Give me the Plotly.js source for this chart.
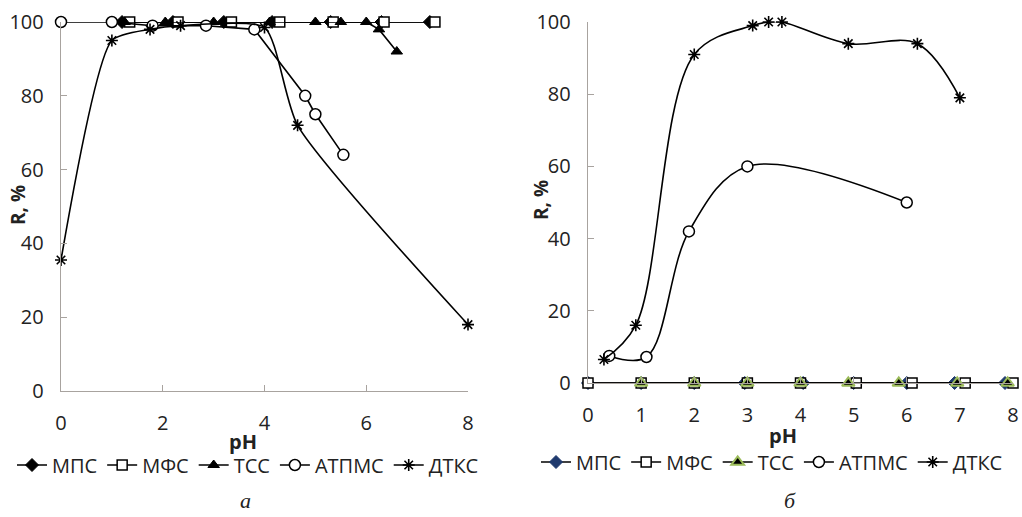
<!DOCTYPE html>
<html>
<head>
<meta charset="utf-8">
<script src="https://cdn.plot.ly/plotly-3.0.1.min.js"></script>
<style>html,body{margin:0;padding:0;background:#fff;}#chart{width:1022px;height:517px;}</style>
</head>
<body>
<div id="chart"></div>
<script>
// ---- Panel а ----
const seriesNames = ['МПС', 'МФС', 'ТСС', 'АТПМС', 'ДТКС'];

const mpsA_pH = [1.2, 2.2, 3.2, 4.15, 5.3, 6.3, 7.25];
const mpsA_R = [100, 100, 100, 100, 100, 100, 100];
const mfsA_pH = [1.35, 2.3, 3.35, 4.3, 5.35, 6.35, 7.35];
const mfsA_R = [100, 100, 100, 100, 100, 100, 100];
const tssA_pH = [1.25, 2.05, 3.0, 4.1, 5.0, 5.5, 6.0, 6.25, 6.6];
const tssA_R = [100, 100, 100, 100, 100, 100, 100, 98, 92];
const atpmsA_pH = [0, 1, 1.8, 2.85, 3.8, 4.8, 5.0, 5.55];
const atpmsA_R = [100, 100, 99, 99, 98, 80, 75, 64];
const dtksA_pH = [0, 1, 1.75, 2.35, 4.0, 4.65, 8];
const dtksA_R = [35.5, 95, 98, 99, 98.5, 72, 18];

// ---- Panel б ----
const mpsB_pH = [0, 1, 2, 2.95, 4.05, 5, 6, 6.9, 7.85];
const mpsB_R = [0, 0, 0, 0, 0, 0, 0, 0, 0];
const mfsB_pH = [0, 1, 2, 3, 4, 5.05, 6.1, 7.1, 8];
const mfsB_R = [0, 0, 0, 0, 0, 0, 0, 0, 0];
const tssB_pH = [1, 2, 3, 4, 4.9, 5.85, 6.95, 7.9];
const tssB_R = [0, 0, 0, 0, 0, 0, 0, 0];
const atpmsB_pH = [0.4, 1.1, 1.9, 3, 6];
const atpmsB_R = [7.5, 7.2, 42, 60, 50];
const dtksB_pH = [0.3, 0.9, 2, 3.1, 3.4, 3.65, 4.9, 6.2, 7];
const dtksB_R = [6.5, 16, 91, 99, 100, 100, 94, 94, 79];

const xTicksA = [0, 2, 4, 6, 8];
const xTicksB = [0, 1, 2, 3, 4, 5, 6, 7, 8];
const yTicks = [0, 20, 40, 60, 80, 100];

const FONT = '"Open Sans", "Noto Sans", sans-serif';
const LINE = {color: '#000', width: 1.6};

function tr(x, y, name, marker, axes, legend, shape, smoothing) {
  const line = Object.assign({}, LINE, {shape: shape || 'linear'});
  if (shape === 'spline') line.smoothing = smoothing;
  return {
    x: x, y: y, name: name, type: 'scatter', mode: 'lines+markers',
    line: line, marker: marker, xaxis: axes[0], yaxis: axes[1],
    legend: legend, cliponaxis: false
  };
}

const mDiamA = {symbol: 'diamond', size: 10, color: '#000', line: {color: '#000', width: 1}};
const mSq = {symbol: 'square', size: 10, color: '#fff', line: {color: '#000', width: 1.5}};
const mTriA = {symbol: 'triangle-up', size: 10, color: '#000', line: {color: '#000', width: 1}};
const mCirc = {symbol: 'circle', size: 11, color: '#fff', line: {color: '#000', width: 1.5}};
const mAstA = {symbol: 'asterisk-open', size: 10, color: '#000', line: {color: '#000', width: 1.6}};

const mDiamB = {symbol: 'diamond', size: 10, color: '#1f3a6e', line: {color: '#1f3a6e', width: 1}};
const mTriB = {symbol: 'triangle-up', size: 11, color: '#000', line: {color: '#9bbb59', width: 2}};
const mAstB = {symbol: 'asterisk-open', size: 10, color: '#000', line: {color: '#000', width: 1.6}};

const A = ['x', 'y'], B = ['x2', 'y2'];
const data = [
  tr(mpsA_pH, mpsA_R, seriesNames[0], mDiamA, A, 'legend'),
  tr(mfsA_pH, mfsA_R, seriesNames[1], mSq, A, 'legend'),
  tr(tssA_pH, tssA_R, seriesNames[2], mTriA, A, 'legend'),
  tr(atpmsA_pH, atpmsA_R, seriesNames[3], mCirc, A, 'legend'),
  tr(dtksA_pH, dtksA_R, seriesNames[4], mAstA, A, 'legend', 'spline', 0.6),
  tr(mpsB_pH, mpsB_R, seriesNames[0], mDiamB, B, 'legend2'),
  tr(mfsB_pH, mfsB_R, seriesNames[1], mSq, B, 'legend2'),
  tr(tssB_pH, tssB_R, seriesNames[2], mTriB, B, 'legend2'),
  tr(atpmsB_pH, atpmsB_R, seriesNames[3], mCirc, B, 'legend2', 'spline', 1),
  tr(dtksB_pH, dtksB_R, seriesNames[4], mAstB, B, 'legend2', 'spline', 1)
];

const AXC = '#a8a39f';
function xax(domain, ticks, anchor) {
  return {
    domain: domain, range: [0, 8], anchor: anchor, tickvals: ticks,
    showgrid: false, zeroline: false, showline: true, linecolor: AXC, linewidth: 1.3,
    ticks: 'inside', ticklen: 6, tickcolor: AXC, ticklabelstandoff: 14,
    tickfont: {family: FONT, size: 20, color: '#222'}, fixedrange: true
  };
}
function yax(domain, anchor) {
  return {
    domain: domain, range: [0, 100], anchor: anchor, tickvals: yTicks,
    showgrid: false, zeroline: false, showline: true, linecolor: AXC, linewidth: 1.3,
    ticks: 'inside', ticklen: 6, tickcolor: AXC, ticklabelstandoff: 12,
    tickfont: {family: FONT, size: 20, color: '#222'}, fixedrange: true
  };
}

const legendBase = {
  orientation: 'h', yanchor: 'middle', xanchor: 'left',
  font: {family: FONT, size: 20, color: '#222'}, bgcolor: 'rgba(0,0,0,0)',
  itemwidth: 30, traceorder: 'normal'
};

function ann(text, px, py, size, extra) {
  return Object.assign({
    text: text, xref: 'paper', yref: 'paper', x: px / 1022, y: 1 - py / 517,
    xanchor: 'center', yanchor: 'middle', showarrow: false,
    font: {family: FONT, size: size, color: '#222'}
  }, extra || {});
}
const SERIF = '"Liberation Serif", "DejaVu Serif", serif';

const layout = {
  width: 1022, height: 517,
  margin: {l: 0, r: 0, t: 0, b: 0},
  paper_bgcolor: '#fff', plot_bgcolor: '#fff',
  showlegend: true,
  xaxis: xax([61 / 1022, 468 / 1022], xTicksA, 'y'),
  yaxis: yax([1 - 391 / 517, 1 - 22 / 517], 'x'),
  xaxis2: xax([588 / 1022, 1013 / 1022], xTicksB, 'y2'),
  yaxis2: yax([1 - 383 / 517, 1 - 22 / 517], 'x2'),
  legend: Object.assign({}, legendBase, {x: 12 / 1022, y: 1 - 465 / 517}),
  legend2: Object.assign({}, legendBase, {x: 536 / 1022, y: 1 - 462 / 517}),
  annotations: [
    ann('<b>pH</b>', 243, 441, 20),
    ann('<b>pH</b>', 783, 435, 20),
    ann('<b>R, %</b>', 18, 205, 19, {textangle: -90}),
    ann('<b>R, %</b>', 541, 200, 19, {textangle: -90}),
    ann('<i>а</i>', 245, 500, 22, {font: {family: SERIF, size: 22, color: '#222'}}),
    ann('<i>б</i>', 790, 500, 22, {font: {family: SERIF, size: 22, color: '#222'}})
  ]
};

Plotly.newPlot('chart', data, layout, {displayModeBar: false, staticPlot: true});
</script>
</body>
</html>
